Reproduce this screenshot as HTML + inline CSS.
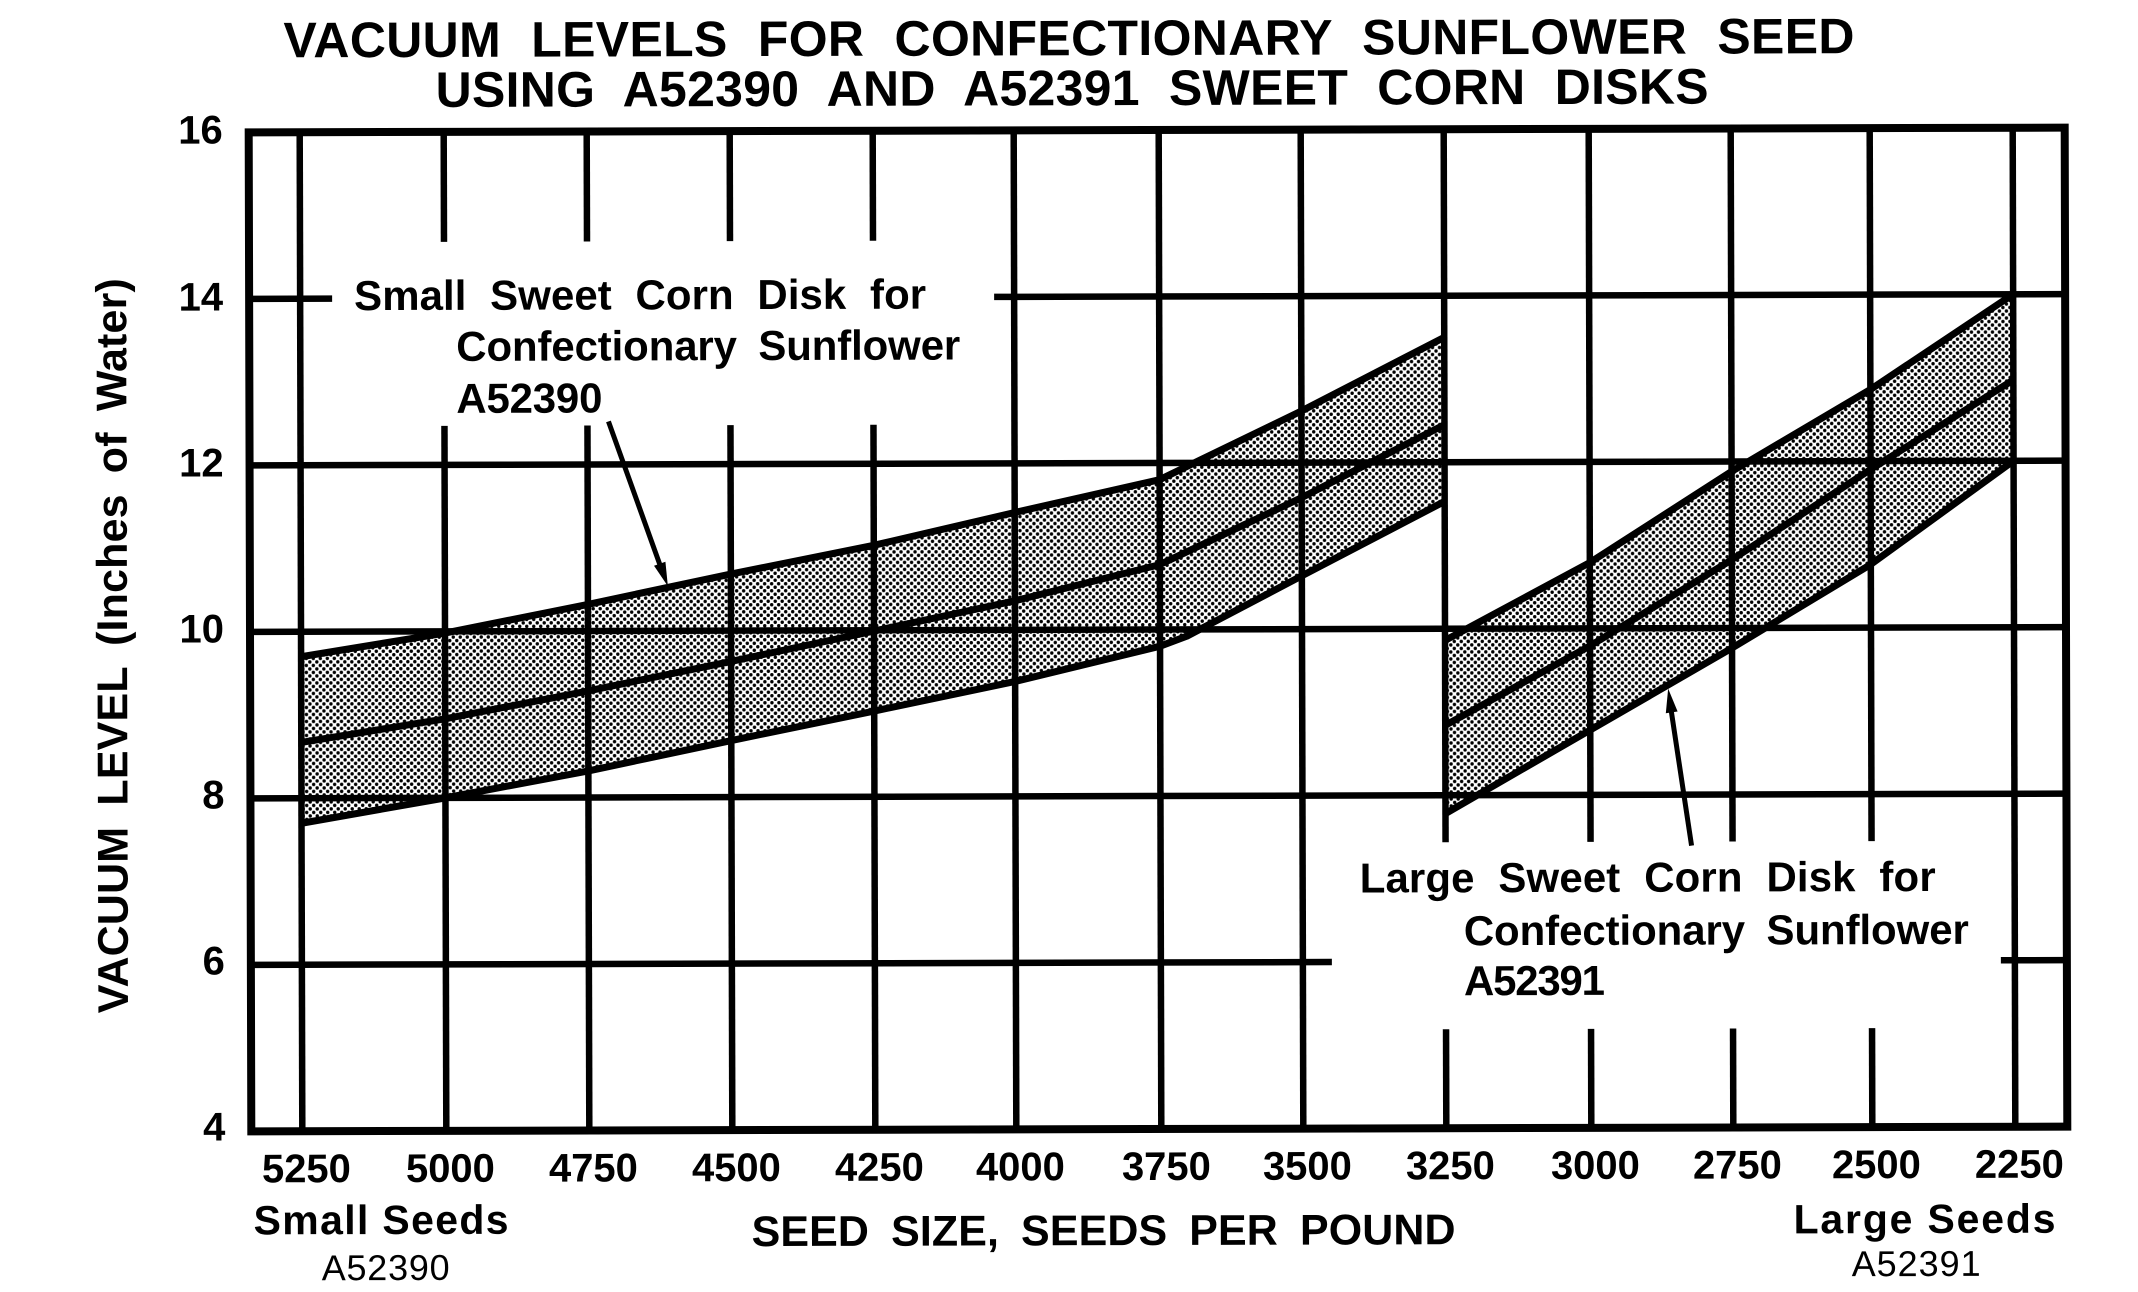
<!DOCTYPE html>
<html>
<head>
<meta charset="utf-8">
<style>
  html, body { margin: 0; padding: 0; background: #ffffff; }
  svg { display: block; }
  text { font-family: "Liberation Sans", Arial, sans-serif; fill: #000; }
  .b { font-weight: bold; }
</style>
</head>
<body>
<svg width="2138" height="1292" viewBox="0 0 2138 1292" xmlns="http://www.w3.org/2000/svg">
  <defs>
    <pattern id="dots" width="7" height="7" patternUnits="userSpaceOnUse">
      <circle cx="1.75" cy="1.75" r="1.7" fill="#000"/>
      <circle cx="5.25" cy="5.25" r="1.7" fill="#000"/>
    </pattern>
  </defs>
  <rect x="0" y="0" width="2138" height="1292" fill="#fff"/>
  <g transform="rotate(-0.15 1158 630)">
    <!-- Title -->
    <text class="b" x="285" y="55" font-size="50" word-spacing="16" textLength="1571" lengthAdjust="spacing">VACUUM LEVELS FOR CONFECTIONARY SUNFLOWER SEED</text>
    <text class="b" x="437" y="105" font-size="50" word-spacing="15" textLength="1273" lengthAdjust="spacing">USING A52390 AND A52391 SWEET CORN DISKS</text>

    <!-- Bands (fill) -->
    <polygon fill="url(#dots)" points="301,654.5 445,631.2 588,602.9 731,572.9 874,544.6 1015,512.1 1160,479.7 1302,411.4 1445,338.1 1445,502.1 1302,576.2 1187,636.2 1160,646.2 1015,681.1 874,710.3 731,739.4 588,769.4 445,796 301,821"/>
    <polygon fill="url(#dots)" points="1445,641.2 1590,563.7 1732,473 1871,391.4 2014,296.5 2014,463 1871,566.2 1732,649.5 1590,731.1 1445,814.3"/>

    <!-- Grid lines -->
    <g stroke="#000" stroke-width="6.5" fill="none">
      <line x1="250" y1="296.5" x2="333" y2="296.5"/>
      <line x1="995" y1="296.5" x2="2066" y2="296.5"/>
      <line x1="250" y1="463" x2="2066" y2="463"/>
      <line x1="250" y1="629.5" x2="2066" y2="629.5"/>
      <line x1="250" y1="796" x2="2066" y2="796"/>
      <line x1="250" y1="962.5" x2="1331" y2="962.5"/>
      <line x1="2000" y1="962.5" x2="2066" y2="962.5"/>
      <line x1="301" y1="130" x2="301" y2="1129"/>
      <line x1="445" y1="130" x2="445" y2="240"/><line x1="445" y1="424" x2="445" y2="1129"/>
      <line x1="588" y1="130" x2="588" y2="240"/><line x1="588" y1="424" x2="588" y2="1129"/>
      <line x1="731" y1="130" x2="731" y2="240"/><line x1="731" y1="424" x2="731" y2="1129"/>
      <line x1="874" y1="130" x2="874" y2="240"/><line x1="874" y1="424" x2="874" y2="1129"/>
      <line x1="1015" y1="130" x2="1015" y2="1129"/>
      <line x1="1160" y1="130" x2="1160" y2="1129"/>
      <line x1="1302" y1="130" x2="1302" y2="1129"/>
      <line x1="1445" y1="130" x2="1445" y2="843"/><line x1="1445" y1="1030" x2="1445" y2="1129"/>
      <line x1="1590" y1="130" x2="1590" y2="843"/><line x1="1590" y1="1030" x2="1590" y2="1129"/>
      <line x1="1732" y1="130" x2="1732" y2="843"/><line x1="1732" y1="1030" x2="1732" y2="1129"/>
      <line x1="1871" y1="130" x2="1871" y2="843"/><line x1="1871" y1="1030" x2="1871" y2="1129"/>
      <line x1="2014" y1="130" x2="2014" y2="1129"/>
    </g>

    <!-- Frame -->
    <rect x="250" y="130" width="1816" height="999" fill="none" stroke="#000" stroke-width="8"/>

    <!-- Band boundary lines -->
    <g stroke="#000" stroke-width="7" fill="none" stroke-linejoin="round">
      <polyline points="301,654.5 445,631.2 588,602.9 731,572.9 874,544.6 1015,512.1 1160,479.7 1302,411.4 1445,338.1"/>
      <polyline points="301,740.2 445,716.9 588,689.4 731,660.3 874,630.3 1015,600.4 1160,564.6 1302,498 1445,425.5"/>
      <polyline points="301,821 445,796 588,769.4 731,739.4 874,710.3 1015,681.1 1160,646.2 1187,636.2 1302,576.2 1445,502.1"/>
      <polyline points="1445,641.2 1590,563.7 1732,473 1871,391.4 2014,296.5"/>
      <polyline points="1445,726.1 1590,647 1732,561.2 1871,471.3 2014,382.2"/>
      <polyline points="1445,814.3 1590,731.1 1732,649.5 1871,566.2 2014,463"/>
    </g>

    <!-- Arrows -->
    <g stroke="#000" stroke-width="5" fill="none">
      <line x1="609" y1="420" x2="661" y2="566"/>
      <line x1="1691" y1="847" x2="1671" y2="712"/>
    </g>
    <polygon points="668,585 654.2,564.4 665.6,560.4" fill="#000"/>
    <polygon points="1668,690 1677.4,712.8 1665.6,714.6" fill="#000"/>

    <!-- Y tick labels -->
    <g class="b" font-size="40" text-anchor="end">
      <text x="224" y="141">16</text>
      <text x="224" y="308">14</text>
      <text x="224" y="474">12</text>
      <text x="224" y="640">10</text>
      <text x="224" y="806">8</text>
      <text x="224" y="972">6</text>
      <text x="224" y="1138">4</text>
    </g>

    <!-- X tick labels -->
    <g class="b" font-size="40" text-anchor="middle">
      <text x="305" y="1180">5250</text>
      <text x="449" y="1180">5000</text>
      <text x="592" y="1180">4750</text>
      <text x="735" y="1180">4500</text>
      <text x="878" y="1180">4250</text>
      <text x="1019" y="1180">4000</text>
      <text x="1165" y="1180">3750</text>
      <text x="1306" y="1180">3500</text>
      <text x="1449" y="1180">3250</text>
      <text x="1594" y="1180">3000</text>
      <text x="1736" y="1180">2750</text>
      <text x="1875" y="1180">2500</text>
      <text x="2018" y="1180">2250</text>
    </g>

    <!-- X axis labels -->
    <text class="b" x="252" y="1232" font-size="41" textLength="255" lengthAdjust="spacing">Small Seeds</text>
    <text x="320" y="1278" font-size="36" textLength="128" lengthAdjust="spacing">A52390</text>
    <text class="b" x="750" y="1245" font-size="43" word-spacing="10" textLength="704" lengthAdjust="spacing">SEED SIZE, SEEDS PER POUND</text>
    <text class="b" x="1792" y="1235" font-size="41" textLength="262" lengthAdjust="spacing">Large Seeds</text>
    <text x="1850" y="1278" font-size="36" textLength="129" lengthAdjust="spacing">A52391</text>

    <!-- Y axis label -->
    <text class="b" font-size="43" text-anchor="middle" word-spacing="9" textLength="735" lengthAdjust="spacing" transform="translate(127,643) rotate(-90)">VACUUM LEVEL (Inches of Water)</text>

    <!-- Annotation 1 -->
    <text class="b" x="355" y="308" font-size="42" word-spacing="12" textLength="572" lengthAdjust="spacing">Small Sweet Corn Disk for</text>
    <text class="b" x="457" y="359" font-size="42" word-spacing="10" textLength="504" lengthAdjust="spacing">Confectionary Sunflower</text>
    <text class="b" x="457" y="411" font-size="42" textLength="146" lengthAdjust="spacing">A52390</text>

    <!-- Annotation 2 -->
    <text class="b" x="1359" y="893" font-size="42" word-spacing="12" textLength="576" lengthAdjust="spacing">Large Sweet Corn Disk for</text>
    <text class="b" x="1463" y="946" font-size="42" word-spacing="10" textLength="505" lengthAdjust="spacing">Confectionary Sunflower</text>
    <text class="b" x="1463" y="996" font-size="42" textLength="141" lengthAdjust="spacing">A52391</text>
  </g>
</svg>
</body>
</html>
